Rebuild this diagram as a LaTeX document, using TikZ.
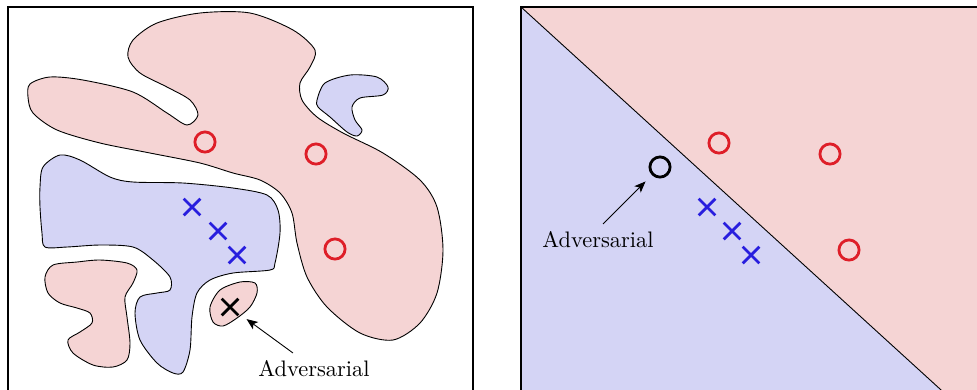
\documentclass[tikz,border=0pt]{standalone}
\usepackage{tikz}
\usetikzlibrary{positioning}
\usetikzlibrary{shapes.misc}
\usetikzlibrary{arrows.meta}
\newcommand{\ringpt}[3][]{\node (#2) [ring, #1] at (#3) {};}
\newcommand{\crosspt}[3][]{\node (#2) [xmark, #1] at (#3) {};}
\tikzstyle{posregion} = [fill=pinkreg, draw=black, line width=0.4pt]
\tikzstyle{negregion} = [fill=bluereg, draw=black, line width=0.4pt]
\tikzstyle{frame} = [draw=black, line width=0.9pt]
\tikzstyle{ring} = [circle, draw=redpt, line width=1.25pt, minimum size=9pt, inner sep=0pt]
\tikzstyle{xmark} = [cross out, draw=bluept, line width=1.25pt, minimum size=6.2pt, inner sep=0pt]
\tikzstyle{adv} = [draw=black]
\tikzstyle{pointer} = [-{Stealth[length=5pt, width=4pt, inset=1.2pt]}, line width=0.4pt]
\definecolor{pinkreg}{RGB}{245,212,212}
\definecolor{bluereg}{RGB}{212,212,245}
\definecolor{redpt}{RGB}{222,30,40}
\definecolor{bluept}{RGB}{40,30,222}

\begin{document}
\begin{tikzpicture}[x=0.446pt, y=-0.446pt]
	\useasboundingbox (0,0) rectangle (977,389);
	\clip (0,0) rectangle (977,389);

	\draw[frame, fill=white] (8,7) rectangle (473,420);
	\draw[posregion] plot[smooth cycle] coordinates {(28,97) (30,84) (50,77) (83,80) (133,92) (167,113) (187,125) (198,115) (190,100) (167,87) (140,73) (128,57) (133,40) (157,23) (200,13) (250,13) (293,30) (315,50) (310,67) (300,83) (302,100) (317,117) (343,133) (383,153) (420,180) (437,207) (443,250) (437,293) (420,323) (393,340) (360,333) (327,307) (307,277) (297,243) (292,213) (280,193) (260,180) (233,173) (200,163) (150,153) (100,143) (57,130) (33,113)};
	\draw[negregion] plot[smooth cycle] coordinates {(317,100) (325,83) (350,75) (377,77) (388,87) (383,95) (360,98) (352,107) (355,120) (362,130) (357,136) (347,132) (330,117) (318,107)};
	\draw[negregion] plot[smooth cycle] coordinates {(40,187) (43,167) (60,155) (80,160) (110,177) (133,182) (183,183) (233,188) (267,195) (278,210) (280,233) (275,263) (270,270) (233,273) (210,280) (197,293) (192,317) (190,350) (183,372) (173,373) (157,363) (140,340) (135,313) (140,297) (157,293) (170,290) (170,277) (153,260) (133,247) (100,245) (67,247) (45,247) (42,233) (40,207)};
	\draw[posregion] plot[smooth cycle] coordinates {(45,277) (53,265) (77,262) (100,260) (127,263) (137,270) (133,283) (125,297) (127,317) (130,343) (127,360) (113,367) (93,365) (73,353) (68,340) (80,332) (92,323) (90,313) (77,308) (60,303) (48,293)};
	\draw[posregion] plot[smooth cycle] coordinates {(210,307) (220,290) (240,282) (255,283) (257,293) (250,307) (237,318) (223,326) (213,322)};

	\ringpt{o1}{205,142}
	\ringpt{o2}{316,154}
	\ringpt{o3}{335,249}
	\crosspt{x1}{192,207}
	\crosspt{x2}{218,231}
	\crosspt{x3}{237,255}
	\crosspt[adv]{advx}{230,307}
	\node (advl) at (314,369) {Adversarial};
	\draw[pointer, shorten >=4.5pt] ([xshift=-9.4pt]advl.north) -- (advx);

	\fill[pinkreg] (521,7) rectangle (990,420);
	\fill[bluereg] (521,7) -- (974,420) -- (521,420) -- cycle;
	\draw[line width=0.4pt] (521,7) -- (974,420);
	\draw[frame] (521,7) rectangle (990,420);

	\ringpt{ro1}{719,143}
	\ringpt{ro2}{830,154}
	\ringpt{ro3}{849,250}
	\ringpt[adv]{advo}{660,167}
	\crosspt{rx1}{707,207}
	\crosspt{rx2}{732,231}
	\crosspt{rx3}{751,255}
	\node (advr) at (598,240) {Adversarial};
	\draw[pointer, shorten >=4pt] ([xshift=2.2pt]advr.north) -- (advo);
\end{tikzpicture}
\end{document}
